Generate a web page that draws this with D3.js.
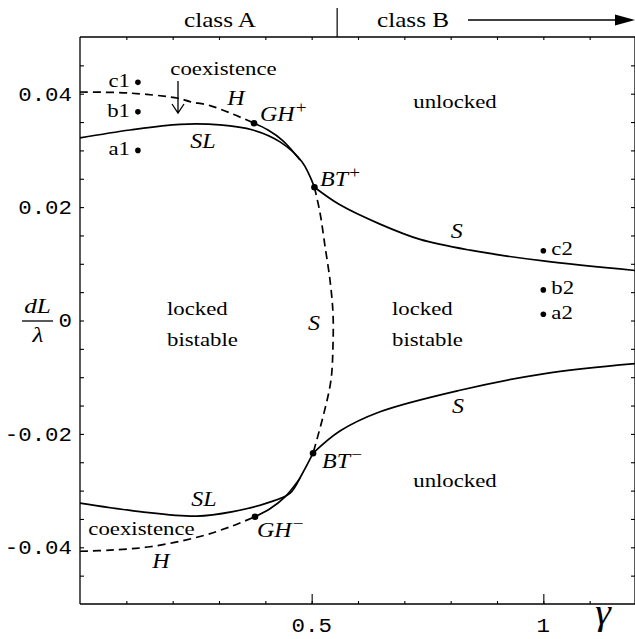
<!DOCTYPE html>
<html><head><meta charset="utf-8">
<script src="https://cdn.jsdelivr.net/npm/d3@7"></script>
<style>body{margin:0;background:#fff}</style>
</head><body>
<svg id="chart" width="635" height="639"></svg>
<script>
// Bifurcation branches in the (gamma, dL/lambda) plane
const hUpper  = [[0,0.0403],[0.108,0.0401],[0.2115,0.0392],[0.2374,0.0386],[0.2806,0.0379],[0.330,0.0364],[0.3756,0.0348]];
const ghUpper = [[0.3756,0.0348],[0.4058,0.0336],[0.4382,0.0317],[0.4749,0.0283]];
const slUpper = [[0,0.0322],[0.108,0.0336],[0.216,0.0346],[0.302,0.0345],[0.373,0.0336],[0.4317,0.0315],[0.479,0.0280],[0.506,0.0235]];
const sUpper  = [[0.506,0.0235],[0.561,0.0204],[0.6475,0.0170],[0.734,0.0143],[0.842,0.0124],[1.0,0.0105],[1.2,0.0088]];
const sMiddle = [[0.506,0.0235],[0.518,0.0190],[0.529,0.0130],[0.5396,0.0071],[0.546,0.0013],[0.546,-0.0045],[0.5417,-0.0105],[0.5266,-0.0163],[0.503,-0.0234]];
const sLower  = [[0.503,-0.0234],[0.561,-0.0195],[0.6475,-0.0161],[0.820,-0.0123],[1.0,-0.0094],[1.2,-0.0076]];
const slLower = [[0,-0.0322],[0.1295,-0.0337],[0.2518,-0.0345],[0.330,-0.0337],[0.403,-0.0322],[0.453,-0.0305],[0.4785,-0.0272],[0.503,-0.0234]];
const hLower  = [[0,-0.0407],[0.065,-0.0405],[0.151,-0.0399],[0.259,-0.0381],[0.330,-0.0362],[0.3777,-0.0346]];
const ghLower = [[0.3777,-0.0346],[0.410,-0.0332],[0.4425,-0.0311],[0.4749,-0.0278]];

// Codimension-two points
const specialPoints = [
  {name:"GH", sign:"+", g:0.3756, v:0.0348},
  {name:"BT", sign:"+", g:0.506,  v:0.0235},
  {name:"BT", sign:"\u2212", g:0.503, v:-0.0234},
  {name:"GH", sign:"\u2212", g:0.3777, v:-0.0346}
];

// Sample operating points
const sampleNames  = ["c1","b1","a1","c2","b2","a2"];
const sampleGamma  = [0.125,0.125,0.125,1.0,1.0,1.0];
const sampleDetune = [0.042,0.0368,0.030,0.0123,0.0054,0.0011];

// Axis ticks
const yMinorTicks = d3.range(-9,10).map(k => k*0.005);
const yLabelTicks = [0.04,0.02,0,-0.02,-0.04];
const yLabelText  = ["0.04","0.02","0","-0.02","-0.04"];
const xMinorTicks = d3.range(1,12).map(k => k*0.1);
const xLabelTicks = [0.5,1];
const xLabelText  = ["0.5","1"];
const classBoundary = 0.555;

const SX = 1.2; // horizontal stretch of all lettering

const svg = d3.select("#chart");
const x = d3.scaleLinear().domain([0,1.2]).range([80,636]);
const y = d3.scaleLinear().domain([-0.05,0.05]).range([604,37]);

const serif = "'Liberation Serif','Times New Roman',serif";
const mono = "'Liberation Mono','DejaVu Sans Mono',monospace";

function label(px, py, str, opts={}) {
  const t = svg.append("text")
    .attr("transform", `translate(${px},${py}) scale(${opts.sx||SX},1)`)
    .attr("font-family", opts.family||serif)
    .attr("font-size", opts.size||19)
    .attr("font-style", opts.italic ? "italic" : "normal")
    .attr("text-anchor", opts.anchor||"middle")
    .attr("fill","#000");
  return t.text(str);
}

// frame
const frame = svg.append("g").attr("stroke","#000").attr("stroke-width",1.3).attr("fill","none");
frame.append("line").attr("x1",x(0)).attr("x2",x(0)).attr("y1",y(0.05)).attr("y2",y(-0.05));
frame.append("line").attr("x1",x(0)).attr("x2",x(1.2)).attr("y1",y(-0.05)).attr("y2",y(-0.05));
frame.append("line").attr("x1",x(0)).attr("x2",x(1.2)).attr("y1",y(0.05)).attr("y2",y(0.05));
frame.append("line").attr("x1",x(1.2)-1).attr("x2",x(1.2)-1).attr("y1",y(0.05)).attr("y2",y(-0.05));

// ticks, pointing inward
const axes = [
  d3.axisLeft(y).tickValues(yMinorTicks).tickSize(-4).tickFormat(""),
  d3.axisRight(y).tickValues(yMinorTicks).tickSize(-4).tickFormat(""),
  d3.axisBottom(x).tickValues(xMinorTicks).tickSize(-3).tickFormat(""),
  d3.axisBottom(x).tickValues(xLabelTicks).tickSize(-10).tickFormat(""),
  d3.axisTop(x).tickValues(xMinorTicks).tickSize(-3).tickFormat("")
];
const axisPos = [[x(0),0],[x(1.2)-1,0],[0,y(-0.05)],[0,y(-0.05)],[0,y(0.05)]];
axes.forEach((ax,i) => {
  const g = svg.append("g").attr("transform",`translate(${axisPos[i][0]},${axisPos[i][1]})`).call(ax);
  g.select(".domain").remove();
  g.selectAll("line").attr("stroke","#000").attr("stroke-width",1.1);
});

yLabelTicks.forEach((v,i) => label(72, y(v)+6.8, yLabelText[i], {family:mono, size:19.5, anchor:"end", sx:1.15}));
xLabelTicks.forEach((v,i) => label(x(v), 632, xLabelText[i], {family:mono, size:19.5, sx:1.15}));

// class header
svg.append("line").attr("x1",x(classBoundary)).attr("x2",x(classBoundary))
  .attr("y1",8).attr("y2",y(0.05)).attr("stroke","#000").attr("stroke-width",1.2);
label(220, 27, "class A", {size:21});
label(413, 27, "class B", {size:21});
svg.append("line").attr("x1",468).attr("x2",620).attr("y1",20).attr("y2",20)
  .attr("stroke","#000").attr("stroke-width",1.4);
svg.append("path").attr("d","M635,20 L615,14.5 L615,25.5 Z").attr("fill","#000");

// branches
const line = d3.line().x(d => x(d[0])).y(d => y(d[1])).curve(d3.curveCatmullRom.alpha(0.5));
const solid = [slUpper, sUpper, sLower, slLower, ghUpper, ghLower];
const dashed = [hUpper, sMiddle, hLower];
solid.forEach(data => svg.append("path").datum(data).attr("d",line)
  .attr("fill","none").attr("stroke","#000").attr("stroke-width",1.7));
dashed.forEach(data => svg.append("path").datum(data).attr("d",line)
  .attr("fill","none").attr("stroke","#000").attr("stroke-width",1.7).attr("stroke-dasharray","8,5"));

// special points
specialPoints.forEach(p => svg.append("circle").attr("cx",x(p.g)).attr("cy",y(p.v)).attr("r",3.3).attr("fill","#000"));

// sample points and their names
sampleNames.forEach((n,i) => {
  const cx = x(sampleGamma[i]), cy = y(sampleDetune[i]);
  svg.append("circle").attr("cx",cx).attr("cy",cy).attr("r",2.8).attr("fill","#000");
  if (sampleGamma[i] < 0.5) label(cx-8, cy+5, n, {anchor:"end"});
  else label(cx+8, cy+4.5, n, {anchor:"start"});
});

// special-point names with superscript signs
function specialLabel(px, py, name, sign) {
  const t = svg.append("text")
    .attr("transform",`translate(${px},${py}) scale(${SX},1)`)
    .attr("font-family",serif).attr("font-size",20).attr("font-style","italic");
  t.append("tspan").text(name);
  t.append("tspan").attr("dx",1).attr("dy",-8).attr("font-size",16).attr("font-style","normal").text(sign);
}
specialPoints.forEach((p,i) => {
  const pos = [[0.3885,0.0352],[0.518,0.0238],[0.5223,-0.0260],[0.382,-0.0382]][i];
  specialLabel(x(pos[0]), y(pos[1]), p.name, p.sign);
});

// branch names
const branchNames = [
  ["H", 0.3367, 0.0380], ["SL", 0.2655, 0.0304], ["S", 0.813, 0.01455],
  ["S", 0.505, -0.0017], ["S", 0.816, -0.0163], ["SL", 0.2676, -0.0328], ["H", 0.1748, -0.0437]
];
branchNames.forEach(b => label(x(b[1]), y(b[2]), b[0], {italic:true, size:20}));

// region names
label(223.5, 75, "coexistence");
label(141.5, 535, "coexistence");
label(455, 108, "unlocked");
label(455, 487, "unlocked");
label(167, 315, "locked", {anchor:"start"});
label(167, 346, "bistable", {anchor:"start"});
label(392, 315, "locked", {anchor:"start"});
label(392, 346, "bistable", {anchor:"start"});

// arrow pointing from the label into the coexistence band
const ax0 = x(0.2115);
svg.append("path").attr("d",`M${ax0},81 L${ax0},113 M${ax0-6},104 L${ax0},113 L${ax0+6},104`)
  .attr("fill","none").attr("stroke","#000").attr("stroke-width",1.3);

// axis titles
label(37.5, 313, "dL", {italic:true, size:21});
svg.append("line").attr("x1",22).attr("x2",53).attr("y1",321).attr("y2",321).attr("stroke","#000").attr("stroke-width",1.3);
label(38, 342, "\u03bb", {italic:true, size:21});
label(603, 624, "\u03b3", {italic:true, size:36, sx:1.1});
</script>
</body></html>
